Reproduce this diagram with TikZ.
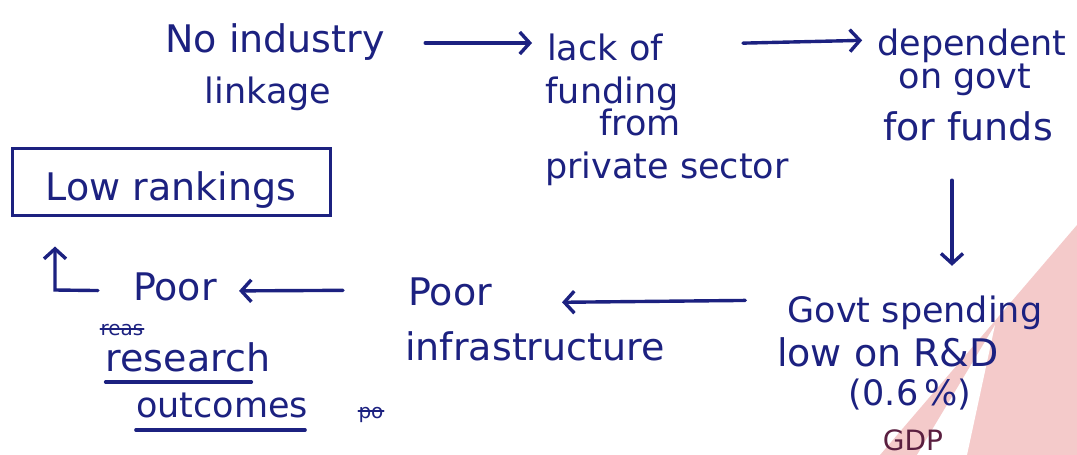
\documentclass[tikz,border=0pt]{standalone}
\usepackage{fontspec}
\setmainfont{DejaVu Sans}
\usetikzlibrary{arrows.meta}
\definecolor{ink}{HTML}{1C2180}
\definecolor{inkred}{HTML}{5A1F40}
\definecolor{logopink}{HTML}{F4CACA}
\begin{document}
\begin{tikzpicture}[x=1pt,y=-1pt,
  every node/.style={inner sep=0pt, text=ink},
  hand/.style={font=\fontsize{35}{40}\selectfont, text height=26pt, text depth=8pt, anchor=base, align=center},
  big/.style={font=\fontsize{38}{42}\selectfont},
  small/.style={font=\fontsize{28}{32}\selectfont, anchor=base},
  tiny/.style={font=\fontsize{20}{24}\selectfont, anchor=base},
  ink line/.style={draw=ink, line width=3.4pt, line cap=round},
  arr/.style={ink line, -{Straight Barb[length=10pt,width=22pt,line width=3.4pt]}},
  rankbox/.style={draw=ink, line width=3pt, font=\fontsize{38}{42}\selectfont,
    text height=40pt, text depth=3pt, minimum width=318pt, minimum height=67pt}
]
\useasboundingbox (0,0) rectangle (1077,455);

% faint logo in the lower right corner
\fill[logopink] (880,455) -- (1077,225) -- (1077,455) -- cycle;
\fill[white] (917,455) -- (995,325) -- (967,455) -- cycle;

% top row
\node[hand, big, minimum width=220pt] (n1a) at (275,52) {No industry};
\node[hand, minimum width=125pt] (n1b) at (268,103) {linkage};

\node[hand, minimum width=100pt] (n2a) at (605,60) {lack of};
\node[hand, minimum width=105pt] (n2b) at (612,103) {funding};
\node[hand, minimum width=80pt] (n2c) at (640,135) {from};
\node[hand, minimum width=225pt] (n2d) at (667,178) {private sector};

\node[hand, minimum width=185pt] (n3a) at (972,55) {dependent};
\node[hand, minimum width=125pt] (n3b) at (965,88) {on govt};
\node[hand, big, minimum width=170pt] (n3c) at (968,140) {for funds};

% bottom row
\node[hand, minimum width=255pt] (n4a) at (915,322) {Govt spending};
\node[hand, big, minimum width=235pt] (n4b) at (888,366) {low on R\&D};
\node[hand, minimum width=130pt] (n4c) at (910,405) {(0.6\,\%)};
\node[small, text=inkred] (n4d) at (913,450) {GDP};

\node[hand, big, minimum width=80pt] (n5a) at (450,305) {Poor};
\node[hand, big, minimum width=260pt] (n5b) at (535,360) {infrastructure};

\node[hand, big, minimum width=70pt] (n6a) at (175,300) {Poor};
\node[tiny] (n6x) at (122,335) {reas};
\node[hand, big, minimum width=162pt] (n6b) at (188,371) {research};
\node[hand, minimum width=165pt] (n6c) at (222,417) {outcomes};
\node[tiny] (n6y) at (371,418) {po};

\node[rankbox] (n7) at (171,181.5) {Low rankings};
\coordinate (elbow) at (55,290);

% corrections and underlines
\draw[ink line, line width=2pt] ([yshift=6pt]n6x.base west) -- ([yshift=6pt]n6x.base east);
\draw[ink line, line width=2pt] ([yshift=7pt]n6y.base west) -- ([yshift=7pt]n6y.base east);
\draw[ink line] ([yshift=-11pt]n6b.base west) -- ([xshift=-19pt,yshift=-11pt]n6b.base east);
\draw[ink line] ([yshift=-13pt]n6c.base west) -- ([xshift=-3pt,yshift=-13pt]n6c.base east);

% connectors
\draw[arr, shorten <=40pt, shorten >=15pt] (n1a.east) -- (n1a.east -| n2a.west);
\draw[arr, shorten <=80pt, shorten >=15pt] ([yshift=6pt]n2a.east) -- ([yshift=6pt]n3a.west);
\draw[arr, shorten <=32pt, shorten >=30pt] ([xshift=-16pt]n3c.south) -- ([xshift=-16pt]n3c.south |- n4a.north);
\draw[arr, shorten <=42pt, shorten >=70pt] ([yshift=13pt]n4a.west) -- ([yshift=-7pt]n5a.east);
\draw[arr, shorten <=65pt, shorten >=22pt] ([yshift=6pt]n5a.west) -- (n6a.east);
\draw[arr, shorten <=35pt, shorten >=30pt] (n6a.west) -- (elbow) -- (elbow |- n7.south);
\end{tikzpicture}
\end{document}
